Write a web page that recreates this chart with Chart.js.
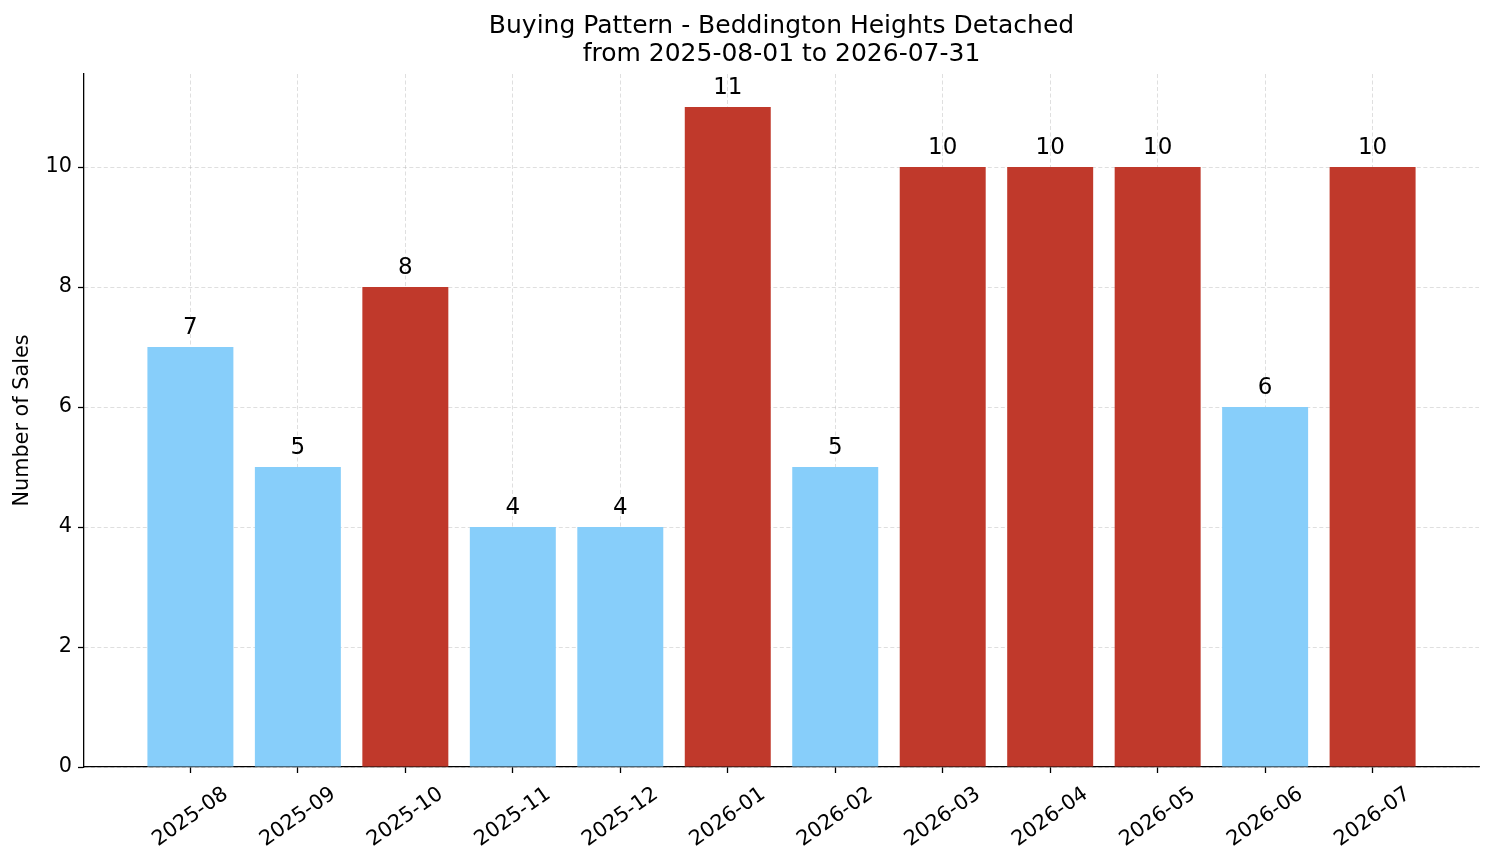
<!DOCTYPE html>
<html><head><meta charset="utf-8">
<script src="https://cdn.jsdelivr.net/npm/chart.js@4.4.1/dist/chart.umd.min.js"></script>
<style>html,body{margin:0;padding:0;background:#fff}#wrap{width:1494px;height:863px}</style>
</head><body><div id="wrap"><canvas id="c" width="1494" height="863"></canvas></div>
<script>
const months = ["2025-08","2025-09","2025-10","2025-11","2025-12","2026-01","2026-02","2026-03","2026-04","2026-05","2026-06","2026-07"];
const sales = [7,5,8,4,4,11,5,10,10,10,6,10];
const highlight = [false,false,true,false,false,true,false,true,true,true,false,true];
const yTicks = [0,2,4,6,8,10];
const titleLines = ["Buying Pattern - Beddington Heights Detached","from 2025-08-01 to 2026-07-31"];

const BLUE = "#87CEFA", RED = "#C0392B";
const FONT = "'DejaVu Sans', sans-serif";
const GRID = "rgba(165,165,165,0.45)";

const labelPlugin = {
  id: 'barLabels',
  afterDraw(chart) {
    const ctx = chart.ctx;
    const meta = chart.getDatasetMeta(0);
    ctx.save();
    ctx.font = "23px " + FONT;
    ctx.fillStyle = "#000";
    ctx.textAlign = "center";
    ctx.textBaseline = "alphabetic";
    meta.data.forEach((bar, i) => {
      ctx.fillText(String(sales[i]), bar.x, bar.y - 13);
    });
    ctx.restore();
  }
};

// shift rotated labels so their centre sits under the tick (matplotlib ha='center')
const tickFontSize = 20.8;
function centerShift() {
  const c = document.createElement('canvas').getContext('2d');
  c.font = tickFontSize + "px " + FONT;
  const w = c.measureText(months[0]).width;
  return (w / 2) * Math.cos(35 * Math.PI / 180);
}
const shiftX = centerShift();

new Chart(document.getElementById('c'), {
  type: 'bar',
  data: {
    datasets: [{
      data: sales.map((v, i) => ({x: i, y: v})),
      backgroundColor: highlight.map(h => h ? RED : BLUE),
      borderWidth: 0,
      barPercentage: 0.8,
      categoryPercentage: 1.0
    }]
  },
  options: {
    responsive: false,
    animation: false,
    devicePixelRatio: 1,
    layout: {padding: {left: 0, right: 15, top: 0, bottom: 0}},
    plugins: {
      legend: {display: false},
      tooltip: {enabled: false},
      title: {
        display: true,
        text: titleLines,
        fullSize: false,
        color: "#000",
        font: {family: FONT, size: 25, weight: 'normal', lineHeight: '28px'},
        padding: {top: 12, bottom: 6}
      }
    },
    scales: {
      x: {
        type: 'linear',
        offset: false,
        min: -0.99,
        max: 11.99,
        z: 1,
        afterFit(s) { s.height = 96; },
        afterBuildTicks(s) { s.ticks = months.map((m, i) => ({value: i})); },
        ticks: {
          autoSkip: false,
          maxRotation: 35,
          minRotation: 35,
          color: "#000",
          padding: 9,
          labelOffset: shiftX,
          font: {family: FONT, size: tickFontSize},
          callback: (v) => months[v]
        },
        grid: {
          display: true,
          offset: false,
          color: GRID,
          lineWidth: 0.8,
          drawTicks: true,
          tickLength: 6,
          tickColor: "#000",
          tickWidth: 1.3,
          tickBorderDash: []
        },
        border: {display: true, color: "#000", width: 1.3, dash: [4, 2.5]}
      },
      y: {
        type: 'linear',
        min: 0,
        max: 11.55,
        z: 1,
        afterFit(s) { s.width = 84; },
        afterBuildTicks(s) { s.ticks = yTicks.map(v => ({value: v})); },
        ticks: {
          color: "#000",
          padding: 6,
          font: {family: FONT, size: tickFontSize}
        },
        title: {
          display: true,
          text: "Number of Sales",
          color: "#000",
          font: {family: FONT, size: 20.8},
          padding: {top: 10, bottom: 2}
        },
        grid: {
          display: true,
          color: GRID,
          lineWidth: 0.8,
          drawTicks: true,
          tickLength: 6,
          tickColor: "#000",
          tickWidth: 1.3,
          tickBorderDash: []
        },
        border: {display: true, color: "#000", width: 1.3, dash: [4, 2.5]}
      }
    }
  },
  plugins: [labelPlugin]
});
</script>
</body></html>
